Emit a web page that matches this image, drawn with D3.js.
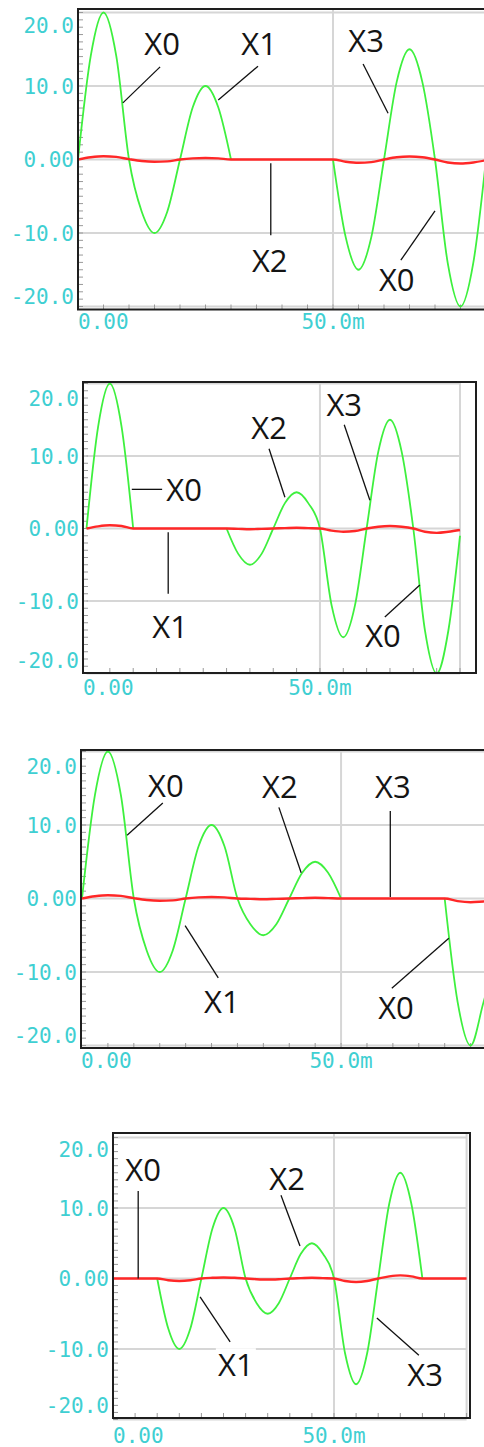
<!DOCTYPE html>
<html lang="en">
<head>
<meta charset="UTF-8">
<title>Mux outputs</title>
<script src="https://d3js.org/d3.v7.min.js"></script>
<style>
  body { margin: 0; background: #fff; }
  .tick-label { font-family: "DejaVu Sans Mono", monospace; font-size: 21px; fill: #3fcfd2; }
  .note { font-family: "Open Sans", sans-serif; font-size: 31px; fill: #141414; }
</style>
</head>
<body>
<svg width="484" height="1447"></svg>
<script>
// sample times (ms)
const time = [0, 2.5, 5, 7.5, 10, 12.5, 15, 17.5, 20, 22.5, 25, 27.5, 30, 32.5, 35, 37.5,
  40, 42.5, 45, 47.5, 50, 52.5, 55, 57.5, 60, 62.5, 65, 67.5, 70, 72.5, 75, 77.5, 80];

const yTicks = [20, 10, 0, -10, -20];
const yTickText = ["20.0", "10.0", "0.00", "-10.0", "-20.0"];
const xTicks = [0, 50];
const xTickText = ["0.00", "50.0m"];

// green = selected channel, red = small ripple; null = not drawn in green
const p1Green = [0, 14.1, 20, 14.1, 0, -7.1, -10, -7.1, 0, 7.1, 10, 7.1, 0, null, null, null,
  null, null, null, null, 0, -10.6, -15, -10.6, 0, 10.6, 15, 10.6, 0, -14.1, -20, -14.1, 0];
const p1Red = [0, 0.3, 0.45, 0.35, 0.05, -0.2, -0.3, -0.25, 0, 0.15, 0.2, 0.15, 0, 0, 0, 0,
  0, 0, 0, 0, 0, -0.3, -0.45, -0.35, 0, 0.3, 0.4, 0.3, 0, -0.4, -0.55, -0.4, -0.1];

const p2Green = [0, 14.1, 20, 14.1, 0, null, null, null, null, null, null, null, 0, -3.5, -5, -3.5,
  0, 3.5, 5, 3.5, 0, -10.6, -15, -10.6, 0, 10.6, 15, 10.6, 0, -14.1, -20, -14.1, -1];
const p2Red = [0, 0.3, 0.45, 0.35, 0, 0, 0, 0, 0, 0, 0, 0, 0, -0.05, -0.1, -0.05,
  0, 0.05, 0.1, 0.05, 0, -0.3, -0.45, -0.35, 0, 0.25, 0.35, 0.25, 0, -0.45, -0.6, -0.45, -0.2];

const p3Green = [0, 14.1, 20, 14.1, 0, -7.1, -10, -7.1, 0, 7.1, 10, 7.1, 0, -3.5, -5, -3.5,
  0, 3.5, 5, 3.5, 0, null, null, null, null, null, null, null, 0, -14.1, -20, -14.1, -8];
const p3Red = [0, 0.3, 0.45, 0.35, 0.05, -0.2, -0.3, -0.25, 0, 0.15, 0.2, 0.15, 0, -0.05, -0.1, -0.05,
  0, 0.05, 0.1, 0.05, 0, 0, 0, 0, 0, 0, 0, 0, 0, -0.35, -0.5, -0.4, -0.3];

const p4Green = [null, null, null, null, 0, -7.1, -10, -7.1, 0, 7.1, 10, 7.1, 0, -3.5, -5, -3.5,
  0, 3.5, 5, 3.5, 0, -10.6, -15, -10.6, 0, 10.6, 15, 10.6, 0, null, null, null, null];
const p4Red = [0, 0, 0, 0, 0, -0.25, -0.35, -0.25, 0, 0.1, 0.15, 0.1, 0, -0.1, -0.15, -0.1,
  0, 0.05, 0.1, 0.05, 0, -0.35, -0.5, -0.35, 0, 0.3, 0.45, 0.3, 0, 0, 0, 0, 0];

// annotations in data units: label at (t, v), leader from (t1, v1) to (t2, v2)
const p1Notes = [
  { text: "X0", t: 16.5, v: 15.7, t1: 16.1, v1: 12.6, t2: 8.8, v2: 7.7 },
  { text: "X1", t: 35.5, v: 15.7, t1: 35.3, v1: 12.7, t2: 27.5, v2: 8.1 },
  { text: "X2", t: 37.6, v: -13.8, t1: 37.8, v1: -0.5, t2: 37.8, v2: -10.3 },
  { text: "X3", t: 56.5, v: 16.1, t1: 55.9, v1: 13.0, t2: 60.8, v2: 6.3 },
  { text: "X0", t: 62.5, v: -16.4, t1: 63.3, v1: -13.7, t2: 70.0, v2: -7.0 }
];
const p2Notes = [
  { text: "X0", t: 20.9, v: 5.4, t1: 9.7, v1: 5.4, t2: 16.2, v2: 5.4 },
  { text: "X1", t: 17.9, v: -13.6, t1: 17.5, v1: -0.5, t2: 17.5, v2: -9.0 },
  { text: "X2", t: 39.1, v: 13.9, t1: 39.1, v1: 11.0, t2: 42.5, v2: 4.3 },
  { text: "X3", t: 55.2, v: 17.0, t1: 55.2, v1: 14.3, t2: 60.7, v2: 3.9 },
  { text: "X0", t: 63.5, v: -14.8, t1: 63.9, v1: -12.2, t2: 71.4, v2: -7.8 }
];
const p3Notes = [
  { text: "X0", t: 16.2, v: 15.3, t1: 15.6, v1: 13.0, t2: 8.7, v2: 8.6 },
  { text: "X1", t: 27.0, v: -14.1, t1: 26.3, v1: -10.8, t2: 19.9, v2: -3.7 },
  { text: "X2", t: 38.2, v: 15.2, t1: 38.0, v1: 12.4, t2: 42.3, v2: 3.5 },
  { text: "X3", t: 60.0, v: 15.2, t1: 59.5, v1: 11.9, t2: 59.5, v2: 0.2 },
  { text: "X0", t: 60.6, v: -14.9, t1: 59.8, v1: -12.2, t2: 70.8, v2: -5.4 }
];
const p4Notes = [
  { text: "X0", t: 6.8, v: 15.4, t1: 5.7, v1: 12.4, t2: 5.7, v2: 0 },
  { text: "X1", t: 27.8, v: -12.3, t1: 26.5, v1: -9.0, t2: 19.7, v2: -2.6 },
  { text: "X2", t: 39.4, v: 14.2, t1: 38.0, v1: 11.8, t2: 42.3, v2: 4.6 },
  { text: "X3", t: 70.6, v: -13.7, t1: 69.2, v1: -10.9, t2: 59.7, v2: -5.6 }
];

// frame of each panel (px) and where 0 ms / 80 ms and 0 V land
const panels = [
  { left: 78, right: 492, top: 9, bottom: 309.5, x0: 78, x80: 486, y0: 159.5, ky: 7.35, xLabDy: 12,
    green: p1Green, red: p1Red, notes: p1Notes },
  { left: 83, right: 476, top: 382, bottom: 673, x0: 86.5, x80: 460, y0: 528.5, ky: 7.25, xLabDy: 14,
    green: p2Green, red: p2Red, notes: p2Notes },
  { left: 81, right: 492, top: 750, bottom: 1048, x0: 82, x80: 496.5, y0: 898.5, ky: 7.35, xLabDy: 12,
    green: p3Green, red: p3Red, notes: p3Notes },
  { left: 113, right: 470, top: 1133, bottom: 1418, x0: 113, x80: 466.6, y0: 1278.5, ky: 7.05, xLabDy: 17,
    green: p4Green, red: p4Red, notes: p4Notes }
];

const svg = d3.select("svg");
svg.append("rect").attr("width", 484).attr("height", 1447).attr("fill", "#fff");

const renderPanel = (p) => {
  const x = d3.scaleLinear().domain([0, 80]).range([p.x0, p.x80]);
  const y = d3.scaleLinear().domain([-20, 20]).range([p.y0 + 20 * p.ky, p.y0 - 20 * p.ky]);
  const g = svg.append("g");

  // grid
  g.selectAll(".hgrid").data(yTicks).enter().append("line")
    .attr("x1", Math.max(p.left, x(0))).attr("x2", x(80))
    .attr("y1", d => y(d)).attr("y2", d => y(d))
    .attr("stroke", "#d6d6d6").attr("stroke-width", 2);
  g.selectAll(".vgrid").data([50, 80]).enter().append("line")
    .attr("x1", d => x(d)).attr("x2", d => x(d))
    .attr("y1", p.top).attr("y2", p.bottom)
    .attr("stroke", "#d6d6d6").attr("stroke-width", 2);

  // minor ticks
  g.selectAll(".ytick").data(d3.range(-20, 21, 1)).enter().append("line")
    .attr("x1", p.left).attr("x2", p.left + 5)
    .attr("y1", d => y(d)).attr("y2", d => y(d))
    .attr("stroke", "#9a9a9a").attr("stroke-width", 1);
  g.selectAll(".xtick").data(d3.range(5, 81, 5)).enter().append("line")
    .attr("x1", d => x(d)).attr("x2", d => x(d))
    .attr("y1", p.bottom).attr("y2", p.bottom - 5)
    .attr("stroke", "#9a9a9a").attr("stroke-width", 1);

  const clip = "clip" + p.top;
  svg.append("clipPath").attr("id", clip).append("rect")
    .attr("x", p.left).attr("y", p.top).attr("width", p.right - p.left).attr("height", p.bottom - p.top);

  const line = d3.line()
    .defined(d => d[1] != null)
    .x(d => x(d[0])).y(d => y(d[1]))
    .curve(d3.curveMonotoneX);

  g.append("path").datum(time.map((t, i) => [t, p.green[i]]))
    .attr("d", line).attr("fill", "none")
    .attr("stroke", "#3ef03e").attr("stroke-width", 1.8)
    .attr("clip-path", `url(#${clip})`);
  g.append("path").datum(time.map((t, i) => [t, p.red[i]]))
    .attr("d", line).attr("fill", "none")
    .attr("stroke", "#ff2727").attr("stroke-width", 2.4)
    .attr("clip-path", `url(#${clip})`);

  // label backgrounds
  const notes = g.selectAll(".note-g").data(p.notes).enter().append("g");
  notes.append("rect")
    .attr("x", d => x(d.t) - 20).attr("y", d => y(d.v) - 17)
    .attr("width", 40).attr("height", 32).attr("fill", "#fff");

  // frame
  g.append("rect")
    .attr("x", p.left).attr("y", p.top)
    .attr("width", p.right - p.left).attr("height", p.bottom - p.top)
    .attr("fill", "none").attr("stroke", "#1e1e1e").attr("stroke-width", 2);

  notes.append("line")
    .attr("x1", d => x(d.t1)).attr("y1", d => y(d.v1))
    .attr("x2", d => x(d.t2)).attr("y2", d => y(d.v2))
    .attr("stroke", "#111").attr("stroke-width", 1.3);
  notes.append("text").attr("class", "note")
    .attr("x", d => x(d.t)).attr("y", d => y(d.v))
    .attr("dy", "0.36em").attr("text-anchor", "middle")
    .text(d => d.text);

  // tick labels
  g.selectAll(".ylab").data(yTicks).enter().append("text")
    .attr("class", "tick-label")
    .attr("x", p.left - 4)
    .attr("y", d => Math.min(Math.max(y(d), p.top + 16), p.bottom - 13))
    .attr("dy", "0.36em").attr("text-anchor", "end")
    .text((d, i) => yTickText[i]);
  g.selectAll(".xlab").data(xTicks).enter().append("text")
    .attr("class", "tick-label")
    .attr("x", d => x(d))
    .attr("y", p.bottom + p.xLabDy)
    .attr("dy", "0.36em").attr("text-anchor", "middle")
    .text((d, i) => xTickText[i])
    .each(function (d) {
      const w = this.getComputedTextLength();
      if (x(d) - w / 2 < p.left) d3.select(this).attr("x", p.left + w / 2);
    });
};

panels.forEach(renderPanel);
</script>
</body>
</html>
